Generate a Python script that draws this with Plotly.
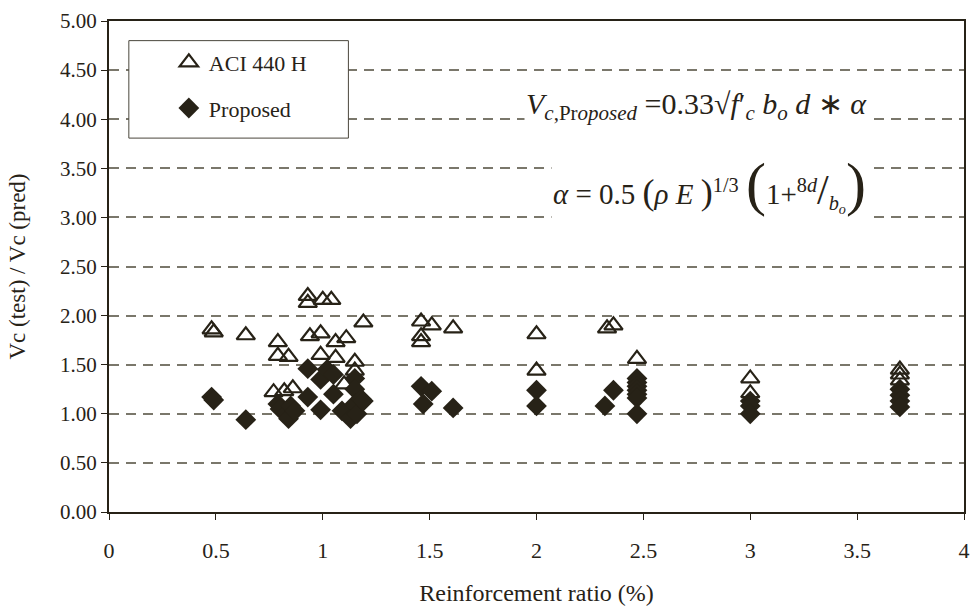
import plotly.graph_objects as go

# Reinforcement ratio (%) and strength ratio Vc(test)/Vc(pred)
aci_ratio = [0.48, 0.49, 0.64, 0.79, 0.79, 0.84, 0.77, 0.82, 0.86, 0.93, 0.93,
             1.00, 1.04, 0.94, 0.99, 1.06, 1.11, 1.19, 0.99, 1.06, 1.15, 1.15,
             1.10, 1.46, 1.51, 1.61, 1.46, 1.46, 2.00, 2.00, 2.33, 2.36, 2.47,
             3.00, 3.00, 3.70, 3.70, 3.70]
aci_vc = [1.86, 1.83, 1.80, 1.73, 1.59, 1.58, 1.22, 1.23, 1.26, 2.20, 2.13,
          2.16, 2.16, 1.79, 1.82, 1.73, 1.77, 1.93, 1.60, 1.57, 1.53, 1.44,
          1.30, 1.94, 1.90, 1.87, 1.79, 1.73, 1.81, 1.44, 1.87, 1.90, 1.56,
          1.36, 1.21, 1.45, 1.40, 1.34]

prop_ratio = [0.48, 0.49, 0.64, 0.79, 0.80, 0.83, 0.84, 0.85, 0.87, 0.93, 0.93,
              0.99, 1.02, 1.05, 0.99, 1.05, 1.09, 1.13, 1.15, 1.15, 1.15, 1.16,
              1.18, 1.19, 1.46, 1.51, 1.47, 1.61, 2.00, 2.00, 2.36, 2.32,
              2.47, 2.47, 2.47, 2.47, 2.47, 2.47, 2.47,
              3.00, 3.00, 3.00, 3.70, 3.70, 3.70, 3.70]
prop_vc = [1.17, 1.14, 0.94, 1.10, 1.05, 1.00, 0.95, 1.08, 1.03, 1.46, 1.17,
           1.35, 1.45, 1.40, 1.04, 1.20, 1.03, 0.95, 1.36, 1.25, 1.10, 1.00,
           1.15, 1.13, 1.28, 1.23, 1.10, 1.06, 1.24, 1.08, 1.24, 1.08,
           1.36, 1.32, 1.28, 1.24, 1.20, 1.16, 1.00,
           1.13, 1.08, 1.00, 1.25, 1.19, 1.13, 1.07]

x_ticks = [0, 0.5, 1, 1.5, 2, 2.5, 3, 3.5, 4]
x_labels = ["0", "0.5", "1", "1.5", "2", "2.5", "3", "3.5", "4"]
y_ticks = [0, 0.5, 1, 1.5, 2, 2.5, 3, 3.5, 4, 4.5, 5]
y_labels = [f"{v:.2f}" for v in y_ticks]

INK = "#272217"
GRID = "#7a776b"
SERIF = "Liberation Serif"

fig = go.Figure()
fig.add_trace(go.Scatter(
    x=aci_ratio, y=aci_vc, mode="markers", name="ACI 440 H",
    legendgroup="a",
    marker=dict(symbol="triangle-up-open", size=16, color=INK,
                line=dict(width=2.2, color=INK)),
))
fig.add_trace(go.Scatter(
    x=prop_ratio, y=prop_vc, mode="markers", name="Proposed",
    legendgroup="b",
    marker=dict(symbol="diamond", size=16, color=INK,
                line=dict(width=0)),
))

# legend frame (white panel above the grid, legend text drawn on top)
fig.add_shape(type="rect", xref="paper", yref="paper",
              x0=0.0232, x1=0.280, y0=0.7615, y1=0.960,
              line=dict(color="#4a463c", width=1), fillcolor="white",
              layer="above")

formula1 = ("<i>V</i><sub><i>c</i>,Pr<i>oposed</i></sub> =0.33√<i>f</i>′"
            "<sub><i>c</i></sub> <i>b</i><sub><i>o</i></sub> <i>d</i> ∗ <i>α</i>")
formula2 = ("<i>α</i> = 0.5 <span style='font-size:36px'>(</span><i>ρ</i> <i>E</i> "
            "<span style='font-size:36px'>)</span><sup>1/3</sup> "
            "<span style='font-size:60px'>(</span>1+<sup>8<i>d</i></sup>"
            "<span style='font-size:42px'>/</span><sub><i>b</i><sub><i>o</i></sub></sub>"
            "<span style='font-size:60px'>)</span>")

fig.add_annotation(x=2.75, y=4.13, xref="x", yref="y", text=formula1,
                   showarrow=False, bgcolor="white",
                   font=dict(family=SERIF, size=30, color=INK))
fig.add_annotation(x=2.81, y=3.34, xref="x", yref="y", text=formula2,
                   showarrow=False, bgcolor="white",
                   font=dict(family=SERIF, size=29, color=INK))

fig.update_layout(
    width=979, height=611,
    margin=dict(l=109, r=9, t=17, b=95),
    paper_bgcolor="white", plot_bgcolor="white",
    font=dict(family=SERIF, color=INK, size=20),
    showlegend=True,
    legend=dict(x=0.07, y=0.958, xanchor="left", yanchor="top",
                bgcolor="rgba(0,0,0,0)", borderwidth=0,
                font=dict(family=SERIF, size=22, color=INK),
                tracegroupgap=14),
    xaxis=dict(range=[0, 4], tickvals=x_ticks, ticktext=x_labels,
               showgrid=False, zeroline=False,
               showline=True, linecolor=INK, linewidth=2, mirror=True,
               ticks="outside", ticklen=6, tickcolor=INK, tickwidth=1,
               ticklabelstandoff=12,
               tickfont=dict(family=SERIF, size=22, color=INK),
               title=dict(text="Reinforcement ratio (%)", standoff=22,
                          font=dict(family=SERIF, size=24, color=INK))),
    yaxis=dict(range=[0, 5], tickvals=y_ticks, ticktext=y_labels,
               showgrid=True, gridcolor=GRID, gridwidth=1.5,
               griddash="10px,7px", zeroline=False,
               showline=True, linecolor=INK, linewidth=2, mirror=True,
               ticks="outside", ticklen=6, tickcolor=INK, tickwidth=1,
               tickfont=dict(family=SERIF, size=21, color=INK),
               title=dict(text="Vc (test) / Vc (pred)", standoff=28,
                          font=dict(family=SERIF, size=23, color=INK))),
)

fig.write_html("out.html")
